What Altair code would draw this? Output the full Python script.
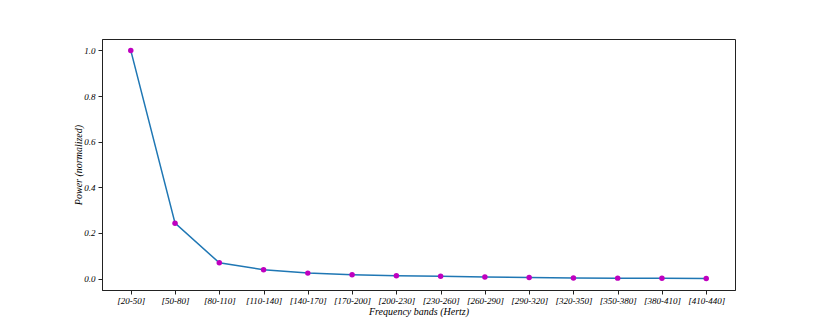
import altair as alt
import pandas as pd

bands = ["[20-50]", "[50-80]", "[80-110]", "[110-140]", "[140-170]", "[170-200]",
         "[200-230]", "[230-260]", "[260-290]", "[290-320]", "[320-350]",
         "[350-380]", "[380-410]", "[410-440]"]
power = [1.0, 0.243, 0.069, 0.039, 0.024, 0.017, 0.012, 0.010, 0.007, 0.005,
         0.003, 0.002, 0.001, 0.0]

df = pd.DataFrame({"idx": list(range(len(bands))), "band": bands, "power": power})

label_expr = "[" + ",".join("'%s'" % b for b in bands) + "][datum.value]"
FONT = "Liberation Serif"

x = alt.X("idx:Q", scale=alt.Scale(domain=[-0.65, 13.65], nice=False, zero=False),
          axis=alt.Axis(values=list(range(len(bands))), labelExpr=label_expr,
                        title="Frequency bands (Hertz)", grid=False, tickSize=4,
                        labelPadding=2, titlePadding=1))
y = alt.Y("power:Q", scale=alt.Scale(domain=[-0.05, 1.05], nice=False, zero=False),
          axis=alt.Axis(values=[0, 0.2, 0.4, 0.6, 0.8, 1.0], format=".1f",
                        title="Power (normalized)", grid=False, tickSize=4,
                        labelPadding=3, titlePadding=0))

base = alt.Chart(df).encode(x=x, y=y)
line = base.mark_line(color="#1f77b4", strokeWidth=1.5)
pts = base.mark_point(filled=True, color="#bf00bf", size=30, opacity=1)

chart = (line + pts).properties(
    width=633, height=251,
    padding={"left": 94, "top": 31, "right": 74, "bottom": 29},
    autosize=alt.AutoSizeParams(type="none"),
    background="white",
).configure_view(stroke="#222222", strokeWidth=1).configure_axis(
    labelFont=FONT, titleFont=FONT, labelFontStyle="italic", titleFontStyle="italic",
    labelFontSize=9, titleFontSize=10, titleFontWeight="normal",
    labelColor="#000000", titleColor="#000000", domainColor="#222222",
    tickColor="#222222", domainWidth=1, tickWidth=1,
)

chart.save("out.html", embed_options={"renderer": "svg", "actions": False})
